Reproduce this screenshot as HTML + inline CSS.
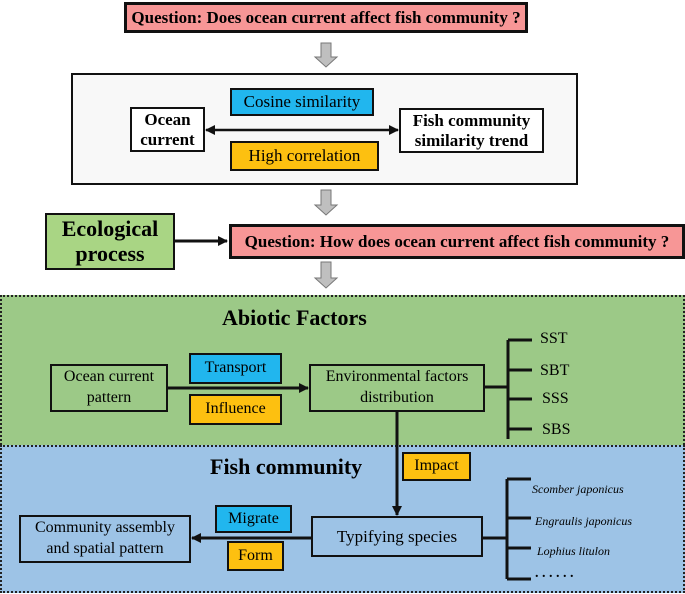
<!DOCTYPE html>
<html><head><style>
body{margin:0;width:685px;height:594px;background:#fff;font-family:"Liberation Serif",serif;position:relative;overflow:hidden}
.b{position:absolute;box-sizing:border-box;border:2px solid #111;display:flex;align-items:center;justify-content:center;text-align:center;line-height:1.15;white-space:nowrap}
.t{position:absolute;font-weight:bold}
</style></head><body>
<div style="position:absolute;left:0;top:295px;width:685px;height:150px;background:#9cc987;box-sizing:border-box;border:2px dotted #222;border-bottom:none"></div>
<div style="position:absolute;left:0;top:445px;width:685px;height:148px;background:#9dc3e6;box-sizing:border-box;border:2px dotted #222"></div>

<div class="b" style="left:124px;top:2px;width:404px;height:31px;background:#f79696;border-width:3px;font-weight:bold;font-size:17px">Question: Does ocean current affect fish community ?</div>
<div class="b" style="left:71px;top:73px;width:507px;height:112px;background:#f8f8f8;border-width:2px"></div>
<div class="b" style="left:230px;top:88px;width:144px;height:28px;background:#21b6ee;font-size:17px">Cosine similarity</div>
<div class="b" style="left:130px;top:107px;width:75px;height:45px;background:#fff;font-weight:bold;font-size:17px">Ocean<br>current</div>
<div class="b" style="left:399px;top:108px;width:145px;height:45px;background:#fff;font-weight:bold;font-size:17px">Fish community<br>similarity trend</div>
<div class="b" style="left:230px;top:141px;width:149px;height:30px;background:#fdc010;font-size:17px">High correlation</div>
<div class="b" style="left:45px;top:213px;width:130px;height:57px;background:#a9d584;font-weight:bold;font-size:22px;line-height:1.1">Ecological<br>process</div>
<div class="b" style="left:229px;top:224px;width:456px;height:35px;background:#f79696;border-width:3px;font-weight:bold;font-size:17px">Question: How does ocean current affect fish community ?</div>

<div class="t" style="left:222px;top:305px;font-size:22px">Abiotic Factors</div>
<div class="t" style="left:210px;top:454px;font-size:22px">Fish community</div>

<div class="b" style="left:50px;top:364px;width:118px;height:48px;font-size:16px;line-height:1.3">Ocean current<br>pattern</div>
<div class="b" style="left:189px;top:353px;width:93px;height:31px;background:#21b6ee;font-size:16px">Transport</div>
<div class="b" style="left:189px;top:394px;width:93px;height:31px;background:#fdc010;font-size:16px">Influence</div>
<div class="b" style="left:309px;top:364px;width:176px;height:48px;font-size:16px;line-height:1.3">Environmental factors<br>distribution</div>
<div class="b" style="left:402px;top:452px;width:69px;height:29px;background:#fdc010;font-size:16px">Impact</div>
<div class="b" style="left:311px;top:516px;width:172px;height:41px;font-size:17px">Typifying species</div>
<div class="b" style="left:19px;top:515px;width:172px;height:48px;font-size:16px;line-height:1.3">Community assembly<br>and spatial pattern</div>
<div class="b" style="left:215px;top:505px;width:77px;height:28px;background:#21b6ee;font-size:16px">Migrate</div>
<div class="b" style="left:227px;top:541px;width:57px;height:30px;background:#fdc010;font-size:16px">Form</div>

<div style="position:absolute;left:540px;top:331px;font-size:16px;line-height:1">SST</div>
<div style="position:absolute;left:540px;top:363px;font-size:16px;line-height:1">SBT</div>
<div style="position:absolute;left:542px;top:391px;font-size:16px;line-height:1">SSS</div>
<div style="position:absolute;left:542px;top:422px;font-size:16px;line-height:1">SBS</div>
<div style="position:absolute;left:532px;top:482px;font-size:12px;font-style:italic">Scomber japonicus</div>
<div style="position:absolute;left:535px;top:514px;font-size:12px;font-style:italic">Engraulis japonicus</div>
<div style="position:absolute;left:537px;top:544px;font-size:12px;font-style:italic">Lophius litulon</div>
<div style="position:absolute;left:535px;top:566px;font-size:14px;font-weight:bold">. . . . . .</div>

<svg width="685" height="594" style="position:absolute;left:0;top:0">
<defs><marker id="a" markerUnits="userSpaceOnUse" markerWidth="10" markerHeight="10" refX="9" refY="5" orient="auto-start-reverse"><path d="M0,0L10,5L0,10z" fill="#111"/></marker></defs>
<g fill="#bfbfbf" stroke="#777" stroke-width="1">
<path d="M321,43h10v14h6l-11,10l-11,-10h6z"/>
<path d="M321,190h10v15h6l-11,10l-11,-10h6z"/>
<path d="M321,262h10v16h6l-11,10l-11,-10h6z"/>
</g>
<g stroke="#111" stroke-width="3" fill="none">
<line x1="206" y1="130" x2="398" y2="130" marker-start="url(#a)" marker-end="url(#a)" stroke-width="2.5"/>
<line x1="175" y1="241" x2="227" y2="241" marker-end="url(#a)"/>
<line x1="167" y1="388" x2="308" y2="388" marker-end="url(#a)"/>
<line x1="397" y1="412" x2="397" y2="515" marker-end="url(#a)"/>
<line x1="311" y1="538" x2="192" y2="538" marker-end="url(#a)"/>
<path d="M485,387h23M508,340v99M508,340h24M508,370h24M508,399h24M508,429h24"/>
<path d="M483,538h24M507,479v100M507,479h24M507,518h24M507,548h24M507,579h24"/>
</g>
</svg>
</body></html>
